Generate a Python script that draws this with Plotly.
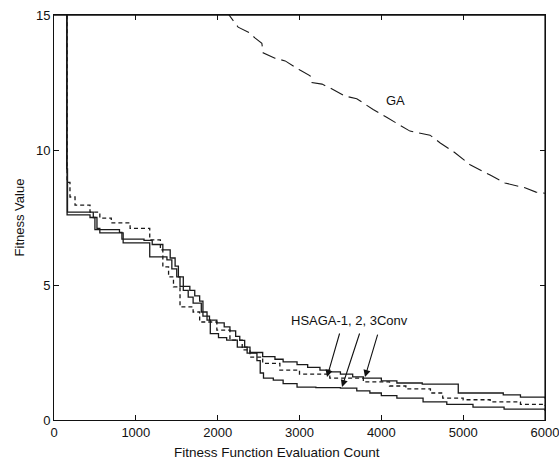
import plotly.graph_objects as go

# ---- data ----
ga_x = [2090, 2190, 2250, 2395, 2455, 2540, 2555, 2700, 2825, 3005, 3130, 3150, 3275, 3375,
        3555, 3700, 3900, 4070, 4230, 4350, 4595, 4720, 4900, 5085, 5330, 5510, 5755, 5890, 6000]
ga_y = [15.2, 14.8, 14.55, 14.33, 14.15, 13.95, 13.6, 13.4, 13.3, 12.96, 12.75, 12.5, 12.44, 12.3,
        12.0, 11.9, 11.5, 11.2, 10.9, 10.7, 10.55, 10.26, 9.9, 9.45, 9.07, 8.78, 8.6, 8.44, 8.4]

h1_x = [150, 160, 195, 257, 440, 560, 700, 930, 1170, 1300, 1330, 1400, 1460, 1540, 1700, 1780,
        1990, 2150, 2300, 2395, 2550, 2760, 3000, 3370, 3780, 4100, 4300, 4600, 4750, 5000, 5330,
        5700, 6000]
h1_y = [16, 8.8, 8.26, 7.96, 7.7, 7.48, 7.3, 7.1, 6.67, 6.3, 5.67, 5.3, 4.93, 4.19, 4.0, 3.63,
        3.33, 2.96, 2.6, 2.33, 2.1, 1.85, 1.7, 1.55, 1.41, 1.26, 1.15, 1.0, 0.81, 0.75, 0.67,
        0.58, 0.52]

h2_x = [150, 160, 440, 525, 560, 845, 1170, 1380, 1440, 1500, 1580, 1640, 1700, 1800, 1870, 1910,
        2010, 2110, 2240, 2360, 2480, 2520, 2560, 2680, 2800, 2970, 3200, 3500, 3700, 3860, 4000,
        4190, 4510, 4800, 5120, 5500, 6000]
h2_y = [16, 7.6, 7.5, 7.1, 6.93, 6.56, 6.04, 5.93, 5.6, 5.3, 4.8, 4.55, 4.33, 4.0, 3.7, 3.2,
        3.05, 2.96, 2.7, 2.48, 2.2, 1.74, 1.55, 1.48, 1.35, 1.22, 1.2, 1.18, 1.08, 1.0, 0.9,
        0.81, 0.67, 0.58, 0.48, 0.4, 0.33]

h3_x = [150, 155, 165, 480, 500, 800, 830, 1100, 1200, 1330, 1420, 1480, 1520, 1540, 1660, 1720,
        1780, 1820, 1900, 1990, 2080, 2150, 2220, 2270, 2330, 2395, 2550, 2700, 2800, 2970, 3100,
        3250, 3370, 3500, 3650, 3780, 4000, 4190, 4500, 4940, 5490, 5700, 6000]
h3_y = [16, 9.3, 7.7, 7.5, 7.05, 6.95, 6.7, 6.65, 6.5, 6.3, 6.0, 5.7, 5.3, 4.95, 4.8, 4.6,
        4.4, 3.85, 3.7, 3.6, 3.45, 3.3, 3.1, 2.95, 2.7, 2.5, 2.35, 2.25, 2.15, 2.05, 1.95,
        1.85, 1.78, 1.7, 1.6, 1.55, 1.45, 1.37, 1.33, 1.0, 0.93, 0.85, 0.8]

x_ticks = [0, 1000, 2000, 3000, 4000, 5000, 6000]
y_ticks = [0, 5, 10, 15]

ga_label = "GA"
hs_label = "HSAGA-1, 2, 3Conv"
x_title = "Fitness Function Evaluation Count"
y_title = "Fitness Value"
arrow_tips = [(3336, 1.59), (3520, 1.22), (3800, 1.59)]
arrow_tails = [(3495, 3.26), (3740, 3.26), (3960, 3.22)]

LINE = "#1a1a1a"
FONT = "Liberation Sans"

fig = go.Figure()
fig.add_trace(go.Scatter(x=ga_x, y=ga_y, mode="lines", name="GA",
                         line=dict(color=LINE, width=1.1, dash="14px,6px")))
fig.add_trace(go.Scatter(x=h1_x, y=h1_y, mode="lines", name="HSAGA-1",
                         line=dict(color=LINE, width=1.3, dash="4px,3px", shape="hv")))
fig.add_trace(go.Scatter(x=h2_x, y=h2_y, mode="lines", name="HSAGA-2",
                         line=dict(color=LINE, width=1.3, shape="hv")))
fig.add_trace(go.Scatter(x=h3_x, y=h3_y, mode="lines", name="HSAGA-3Conv",
                         line=dict(color=LINE, width=1.3, shape="hv")))

annotations = [
    dict(x=4167, y=11.85, text=ga_label, showarrow=False, xref="x", yref="y",
         font=dict(family=FONT, size=13, color="#111")),
    dict(x=3617, y=3.7, text=hs_label, showarrow=False, xref="x", yref="y",
         font=dict(family=FONT, size=13, color="#111")),
    dict(x=0.454, y=-0.081, text=x_title, showarrow=False, xref="paper", yref="paper",
         xanchor="center", yanchor="middle", font=dict(family=FONT, size=13.5, color="#111")),
]
for (tx, ty), (ax, ay) in zip(arrow_tips, arrow_tails):
    annotations.append(dict(x=tx, y=ty, ax=ax, ay=ay, xref="x", yref="y", axref="x", ayref="y",
                            text="", showarrow=True, arrowhead=2, arrowsize=1.3,
                            arrowwidth=1.1, arrowcolor="#111"))

fig.update_layout(
    width=559, height=464,
    margin=dict(l=54, r=14, t=15, b=44, autoexpand=False),
    paper_bgcolor="white", plot_bgcolor="white",
    showlegend=False,
    font=dict(family=FONT, size=12, color="#111"),
    annotations=annotations,
    shapes=[dict(type="line", xref="paper", yref="paper", x0=0, x1=1, y0=1, y1=1,
                 line=dict(color="#111", width=1.6), layer="above"),
            dict(type="line", xref="paper", yref="paper", x0=1, x1=1, y0=0, y1=1,
                 line=dict(color="#111", width=1.2), layer="above")],
)
fig.update_xaxes(range=[0, 6000], tickvals=x_ticks, ticktext=[str(v) for v in x_ticks],
                 showgrid=False, zeroline=False, showline=True, linecolor="#111", linewidth=1,
                 mirror="ticks", ticks="inside", ticklen=5, tickcolor="#111",
                 tickfont=dict(size=13), automargin=False, ticklabeloverflow="allow")
fig.update_yaxes(range=[0, 15], tickvals=y_ticks, ticktext=[str(v) for v in y_ticks],
                 showgrid=False, zeroline=False, showline=True, linecolor="#111", linewidth=1,
                 mirror="ticks", ticks="inside", ticklen=5, tickcolor="#111",
                 tickfont=dict(size=13), automargin=False, ticklabeloverflow="allow",
                 title=dict(text=y_title, font=dict(size=13), standoff=8))

fig.write_html("out.html", config={"displayModeBar": False},
               post_script="document.body.style.margin='0';document.body.style.overflow='hidden';")
